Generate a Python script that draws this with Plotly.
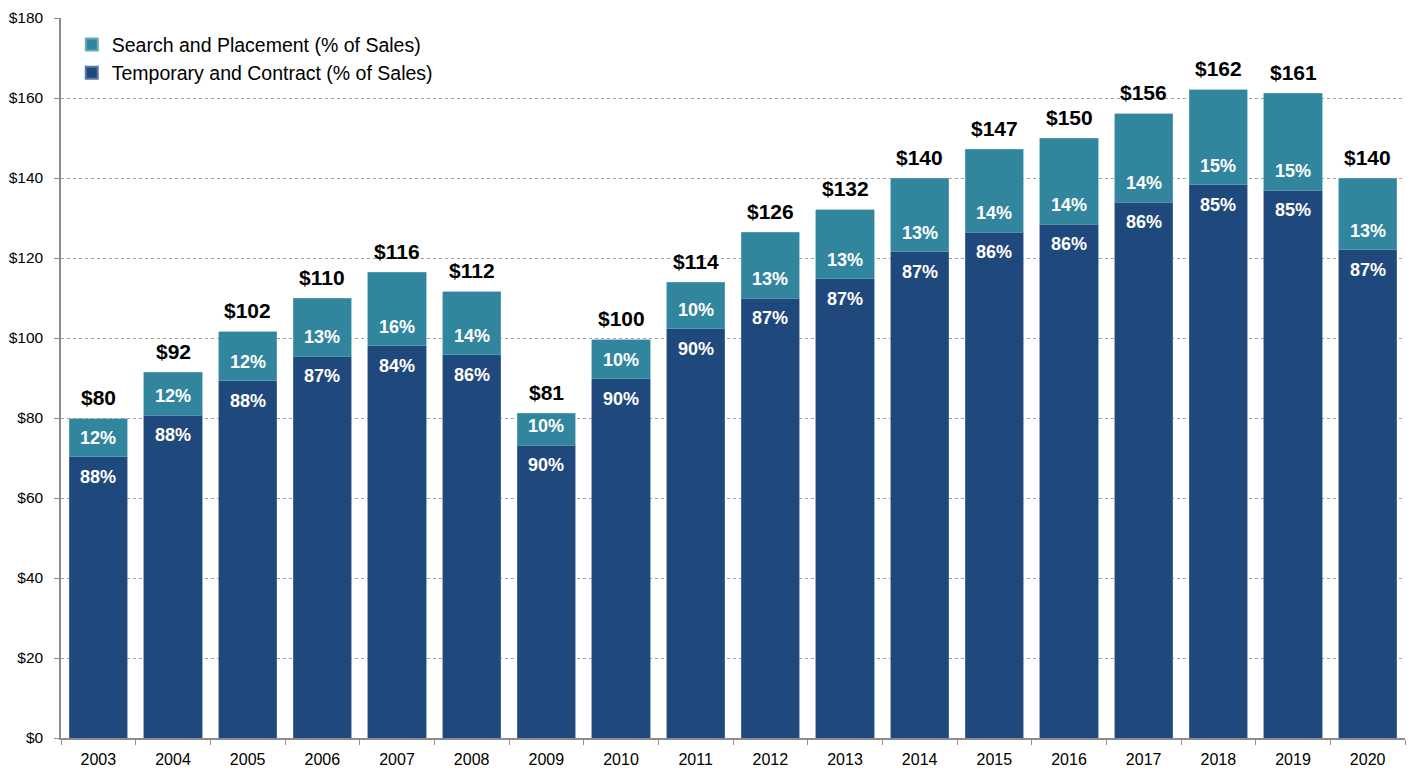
import plotly.graph_objects as go

years = ["2003", "2004", "2005", "2006", "2007", "2008", "2009", "2010", "2011",
         "2012", "2013", "2014", "2015", "2016", "2017", "2018", "2019", "2020"]
total = [79.8, 91.5, 101.6, 110.0, 116.4, 111.6, 81.2, 99.6, 113.9,
         126.4, 132.1, 140.0, 147.2, 149.9, 156.1, 162.1, 161.2, 140.0]
temp = [70.3, 80.7, 89.3, 95.4, 98.1, 95.8, 73.2, 89.8, 102.3,
        110.0, 114.8, 121.6, 126.4, 128.5, 133.9, 138.3, 136.9, 122.1]
search = [round(t - c, 1) for t, c in zip(total, temp)]
total_labels = ["$80", "$92", "$102", "$110", "$116", "$112", "$81", "$100", "$114",
                "$126", "$132", "$140", "$147", "$150", "$156", "$162", "$161", "$140"]
temp_pct = ["88%", "88%", "88%", "87%", "84%", "86%", "90%", "90%", "90%",
            "87%", "87%", "87%", "86%", "86%", "86%", "85%", "85%", "87%"]
search_pct = ["12%", "12%", "12%", "13%", "16%", "14%", "10%", "10%", "10%",
              "13%", "13%", "13%", "14%", "14%", "14%", "15%", "15%", "13%"]
y_ticks = list(range(0, 181, 20))
y_tick_text = ["$" + str(v) for v in y_ticks]

C_TEMP = "#1F497D"
C_SEARCH = "#31869E"
BOLD = "Liberation Sans Narrow, Arial Narrow, Liberation Sans, Arial, sans-serif"
REG = "Liberation Sans, Arial, sans-serif"

fig = go.Figure()
fig.add_trace(go.Bar(x=years, y=temp, name="Temporary and Contract (% of Sales)",
                     marker=dict(color=C_TEMP, line=dict(color="#5a7aa6", width=0.6)),
                     hoverinfo="skip"))
fig.add_trace(go.Bar(x=years, y=search, name="Search and Placement (% of Sales)",
                     marker=dict(color=C_SEARCH, line=dict(color="#6aaabb", width=0.6)),
                     hoverinfo="skip"))

ann = []
for i, yr in enumerate(years):
    ann.append(dict(x=i, y=total[i], text="<b>" + total_labels[i] + "</b>", showarrow=False,
                    yshift=21, font=dict(family=BOLD, size=21, color="black")))
    ann.append(dict(x=i, y=temp[i], text="<b>" + temp_pct[i] + "</b>", showarrow=False,
                    yshift=-20, font=dict(family=BOLD, size=18, color="white")))
    ann.append(dict(x=i, y=temp[i], text="<b>" + search_pct[i] + "</b>", showarrow=False,
                    yshift=19, font=dict(family=BOLD, size=18, color="white")))

fig.update_layout(
    width=1411, height=773,
    margin=dict(l=61, r=6, t=18, b=35),
    barmode="stack", bargap=0.22,
    plot_bgcolor="white", paper_bgcolor="white",
    font=dict(family=REG, size=16, color="black"),
    legend=dict(x=0.008, y=0.99, xanchor="left", yanchor="top", traceorder="reversed",
                font=dict(family=REG, size=19.5, color="black"), bgcolor="rgba(0,0,0,0)",
                itemsizing="constant", tracegroupgap=0),
    annotations=ann,
    showlegend=True,
)
fig.update_xaxes(type="category", range=[-0.5, len(years) - 0.5],
                 showline=True, linecolor="#8c8c8c", linewidth=1.5,
                 ticks="outside", tickson="boundaries", ticklen=5, tickcolor="#8c8c8c",
                 ticklabelstandoff=6,
                 tickfont=dict(family=REG, size=16, color="black"), showgrid=False)
fig.update_yaxes(range=[0, 180], tickvals=y_ticks, ticktext=y_tick_text,
                 showline=True, linecolor="#8c8c8c", linewidth=1.5, ticks="outside",
                 ticklen=5, tickcolor="#8c8c8c", ticklabelstandoff=8,
                 tickfont=dict(family=REG, size=15.5, color="black"),
                 showgrid=True, gridcolor="#a0a0a0", griddash="3px,3px", gridwidth=1,
                 zeroline=False)

fig.write_html("out.html")
